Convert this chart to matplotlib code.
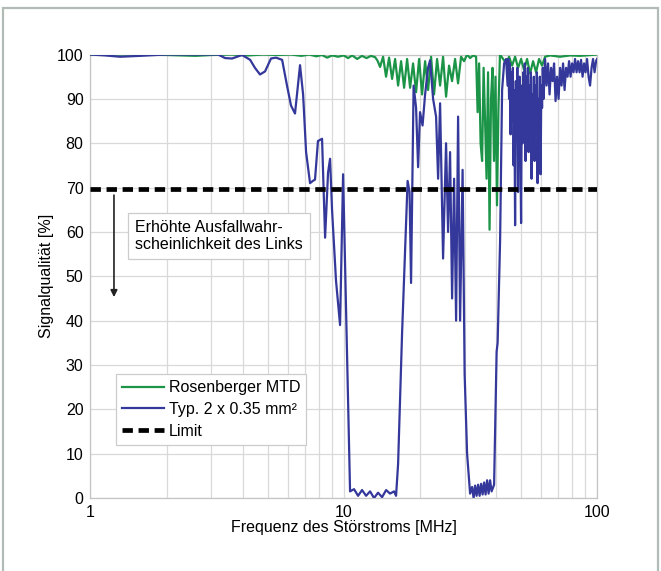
import matplotlib
matplotlib.use('Agg')
import matplotlib.pyplot as plt
import matplotlib.patches as patches
from matplotlib.ticker import FixedLocator, FixedFormatter, LogLocator, NullFormatter

plt.rcParams['font.family'] = ['Liberation Sans', 'DejaVu Sans']
plt.rcParams['font.size'] = 11.5

# Rosenberger MTD (green)
freq_mtd = [1.0, 1.5, 2.0, 2.6, 3.0, 3.6, 4.2, 4.8, 5.5, 6.2, 6.8, 7.3, 7.8, 8.2, 8.6,
            9.0, 9.5, 10.0, 10.4, 10.8, 11.3, 11.8, 12.3, 12.8, 13.3, 13.6,
            13.91, 14.30, 14.69, 15.10, 15.52, 15.95, 16.39, 16.84, 17.31, 17.79,
            18.28, 18.78, 19.30, 19.84, 20.38, 20.95, 21.53, 22.12, 22.73, 23.36,
            24.01, 24.67, 25.35, 26.05, 26.77, 27.51, 28.27, 29.06, 29.86, 30.69,
            31.54, 32.41, 33.31, 33.77, 34.23, 34.70, 35.18, 35.66, 36.14, 36.63,
            37.13, 37.64, 38.15, 38.67, 39.19, 39.73, 40.27, 40.82, 41.38,
            42.58, 43.75, 44.96, 46.20, 47.48, 48.79, 50.14, 51.53, 52.95, 54.41,
            55.92, 57.46, 59.05, 60.68, 62.36, 65.28, 71.47, 78.31, 85.77, 100.0]
q_mtd = [100, 100, 99.9, 99.7, 99.9, 100, 99.8, 100, 99.9, 100, 99.7, 100, 99.6, 99.9, 99.3,
         99.8, 99.5, 99.8, 99.2, 99.8, 99.0, 99.7, 99.2, 99.7, 99.4, 98.6,
         97.2, 99.5, 95, 99.3, 94.5, 99, 93, 98.5, 92.5, 99,
         92.5, 98, 91.5, 99, 91, 98.5, 92, 99.5, 91, 99,
         93, 99.5, 90.5, 97.5, 94, 99, 93.5, 99.5, 98.5, 100,
         99.2, 99.8, 99.5, 87, 98, 80, 76, 97, 85, 72,
         96, 60.5, 90, 97, 76, 95, 66, 88, 100,
         99, 98, 99.5, 97.5, 99.5, 97, 99, 96.5, 99, 95.7,
         98.5, 96, 99, 97.5, 99.5, 99.8, 99.5, 99.8, 99.7, 100]

# Typ. 2 x 0.35 mm2 (blue)
freq_typ = [1.0, 1.14, 1.31, 1.57, 1.97, 2.71, 3.19, 3.40, 3.62, 3.97, 4.27, 4.46, 4.67,
            4.89, 5.16, 5.40, 5.71, 5.97, 6.19, 6.42, 6.72, 6.91, 7.10, 7.36, 7.55,
            7.70, 7.91, 8.21, 8.44, 8.67, 8.83, 8.99, 9.32, 9.49, 9.67, 9.94,
            10.59, 10.98, 11.39, 11.81, 12.25, 12.70, 13.17, 13.66, 14.17, 14.70,
            15.23, 15.80, 16.09, 16.39, 16.99, 17.87, 18.19, 18.44, 18.87, 19.30,
            19.66, 20.01, 20.47, 20.95, 21.52, 21.92, 22.53, 23.15, 23.58, 24.01,
            24.67, 25.35, 25.82, 26.29, 26.78, 27.27, 27.77, 28.28, 28.80, 29.46,
            30.01, 30.69, 31.54, 32.12, 32.56, 33.01, 33.46, 33.92, 34.39, 34.86,
            35.34, 35.82, 36.31, 36.81, 37.32, 37.83, 38.35, 39.23, 40.14, 40.51,
            41.43, 42.19, 42.97, 43.75,
            44.35, 44.65, 44.96, 45.27, 45.58, 45.89, 46.20, 46.52, 46.84, 47.16,
            47.48, 47.80, 48.13, 48.46, 48.79, 49.12, 49.46, 49.80, 50.14, 50.48,
            50.83, 51.18, 51.53, 51.88, 52.23, 52.59, 52.95, 53.31, 53.68, 54.05,
            54.41, 54.79, 55.16, 55.54, 55.92, 56.30, 56.68, 57.07, 57.46, 57.85,
            58.25, 58.65, 59.05, 59.45, 59.86, 60.27, 60.68, 61.10, 61.52,
            62.36, 63.21, 64.08, 64.96,
            65.85, 66.76, 67.67, 68.60, 69.54, 70.50, 71.47, 72.45, 73.44, 74.45,
            75.47, 76.51, 77.56, 78.62, 79.70, 80.80, 81.91, 83.03, 84.17, 85.33,
            86.50, 87.69, 88.89, 90.11, 91.35, 92.61, 93.88, 95.17, 96.47, 97.80,
            99.14, 100.0]
q_typ = [100, 99.8, 99.5, 99.7, 100, 100, 100, 99.2, 99.1, 99.9, 98.8, 97, 95.5,
         96.2, 99.1, 99.3, 98.8, 93, 88.5, 86.7, 97.6, 91, 78, 71.0, 71.5,
         71.8, 80.5, 81, 58.7, 73.4, 76.5, 65, 49, 44, 39, 73,
         1.5, 2, 0.5, 1.8, 0.5, 1.5, 0, 1.2, 0.2, 1.8,
         1.0, 1.5, 0.5, 7.7, 37, 71.5, 69, 48.5, 93, 88,
         74.6, 87, 84, 91, 97, 98.7, 90, 86, 72, 89,
         54, 80, 60, 78, 45, 72, 40, 86, 40, 74,
         28, 10, 1, 2.5, 0, 2.8, 0.5, 3, 0.5, 3.2,
         0.8, 3.5, 0.8, 4, 1, 4, 1.5, 3, 33, 35,
         58, 92, 98, 99,
         93, 99, 90, 98, 82, 96, 85, 97, 75, 92,
         61.5, 94, 84, 97, 69, 90, 95, 80, 62, 93,
         80, 96, 83, 98, 76, 95, 84, 97, 78, 93,
         82, 96, 72, 91, 80, 95, 76, 93, 82, 96,
         71, 90, 80, 95, 73, 93, 88, 97, 90,
         99, 93, 98, 91,
         97, 94, 98, 89.5, 95, 90, 97, 93, 98, 92,
         97, 95, 98.5, 95, 98, 96, 99, 96, 98.5, 96,
         98.8, 95, 98, 96, 99, 95, 93, 97, 99, 96,
         98.5, 99]

limit_freq = [1, 100]
limit_q = [69.6, 69.6]

xticks = [1, 10, 100]
xtick_labels = ['1', '10', '100']
yticks = [0, 10, 20, 30, 40, 50, 60, 70, 80, 90, 100]
series_labels = ['Rosenberger MTD', 'Typ. 2 x 0.35 mm²', 'Limit']
note = 'Erhöhte Ausfallwahr-\nscheinlichkeit des Links'

green = '#1b9447'
blue = '#34389a'
gridc = '#d9d9d9'

fig = plt.figure(figsize=(6.61, 5.71), dpi=100)
ax = fig.add_axes([0.1369, 0.1278, 0.7663, 0.7767])

ax.plot(freq_mtd, q_mtd, color=green, lw=1.6, label=series_labels[0], zorder=3)
ax.plot(freq_typ, q_typ, color=blue, lw=1.6, label=series_labels[1], zorder=4)
ax.plot(limit_freq, limit_q, color='black', lw=3.4, dashes=(2.2, 1.2),
        label=series_labels[2], zorder=5)

ax.set_xscale('log')
ax.set_xlim(1, 100)
ax.set_ylim(0, 100)
ax.xaxis.set_major_locator(FixedLocator(xticks))
ax.xaxis.set_major_formatter(FixedFormatter(xtick_labels))
ax.xaxis.set_minor_locator(LogLocator(base=10, subs=range(2, 10)))
ax.xaxis.set_minor_formatter(NullFormatter())
ax.set_yticks(yticks)
ax.tick_params(which='both', length=0, pad=5)

ax.grid(True, which='both', axis='x', color=gridc, lw=0.9)
ax.grid(True, which='major', axis='y', color=gridc, lw=0.9)
ax.set_axisbelow(True)
for s in ax.spines.values():
    s.set_color('#c4c4c4')
    s.set_linewidth(0.9)

ax.set_xlabel('Frequenz des Störstroms [MHz]', labelpad=0)
ax.set_ylabel('Signalqualität [%]', labelpad=2)

leg = ax.legend(loc='upper left', bbox_to_anchor=(0.05, 0.28), borderaxespad=0,
                fancybox=False, edgecolor='#cccccc', framealpha=1,
                handlelength=2.6, handletextpad=0.3, labelspacing=0.42,
                borderpad=0.4)
leg.get_frame().set_linewidth(0.9)
leg.set_zorder(6)

ax.text(1.5, 59.1, note, ha='left', va='center', linespacing=1.2, zorder=6,
        bbox=dict(boxstyle='square,pad=0.45', fc='white', ec='#cccccc', lw=0.9))
ax.annotate('', xy=(1.238, 45.3), xytext=(1.238, 68.3),
            arrowprops=dict(arrowstyle='-|>', color='#222222', lw=1.2,
                            mutation_scale=10, shrinkA=0, shrinkB=0))

fig.patches.append(patches.Rectangle((0.0045, -0.05), 0.991, 1.036,
                                     transform=fig.transFigure, fill=False,
                                     ec='#b3bbb7', lw=1.6))

plt.savefig('out.png', dpi=100)
